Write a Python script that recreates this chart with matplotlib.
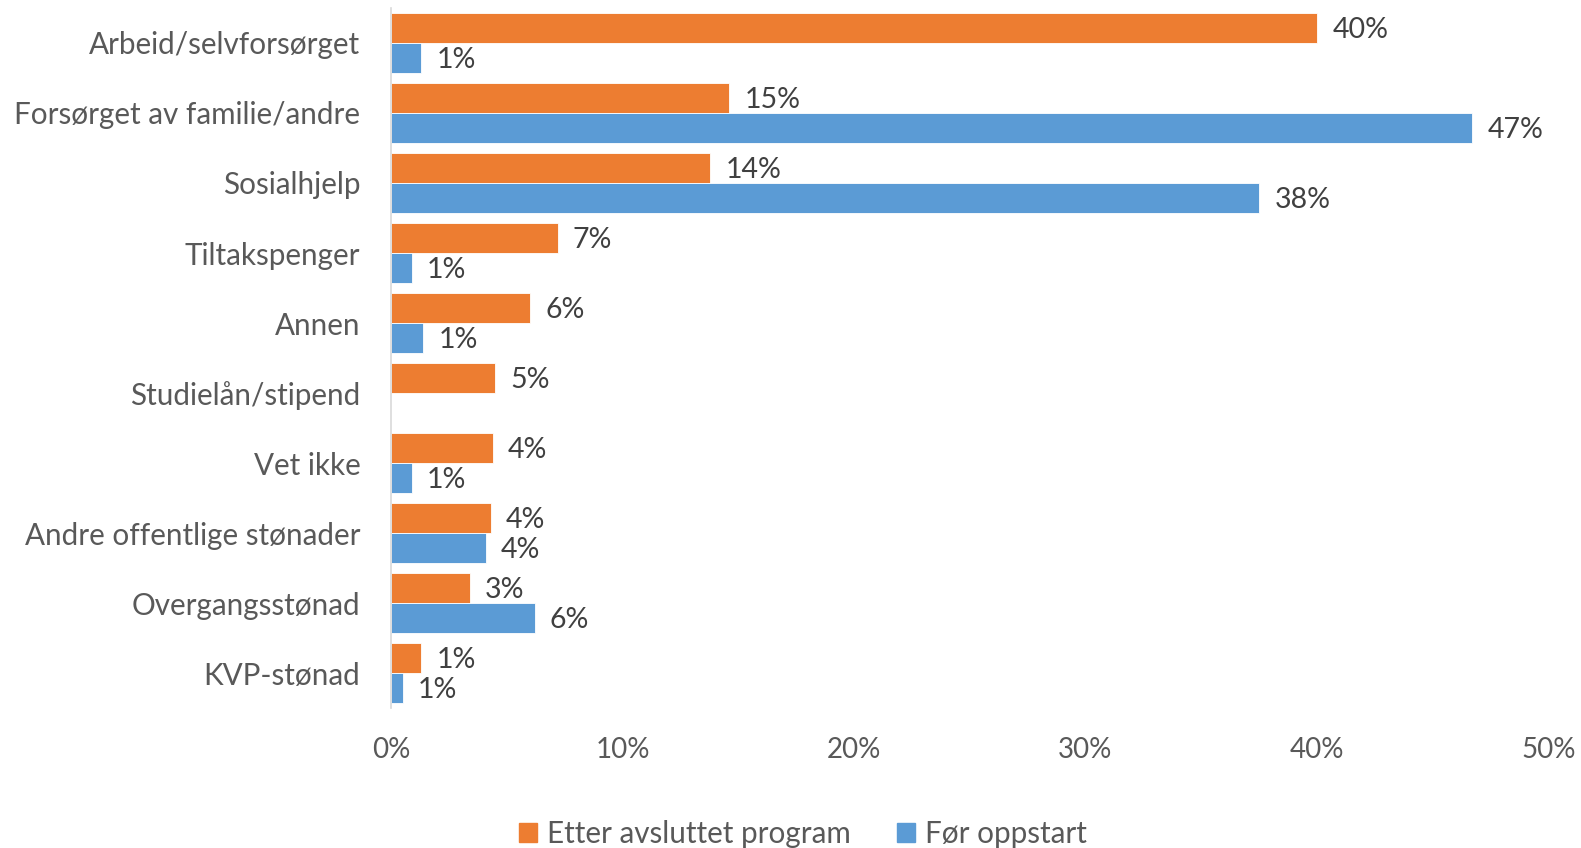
import numpy as np
import matplotlib
matplotlib.use("Agg")
import matplotlib.pyplot as plt
from matplotlib.patches import Patch

categories = ["Arbeid/selvforsørget", "Forsørget av familie/andre", "Sosialhjelp",
              "Tiltakspenger", "Annen", "Studielån/stipend", "Vet ikke",
              "Andre offentlige stønader", "Overgangsstønad", "KVP-stønad"]
etter = [40.0, 14.6, 13.8, 7.2, 6.0, 4.5, 4.4, 4.3, 3.4, 1.3]
for_oppstart = [1.3, 46.7, 37.5, 0.9, 1.4, 0.0, 0.9, 4.1, 6.2, 0.5]
etter_labels = ["40%", "15%", "14%", "7%", "6%", "5%", "4%", "4%", "3%", "1%"]
for_labels = ["1%", "47%", "38%", "1%", "1%", "", "1%", "4%", "6%", "1%"]
x_ticks = [0, 10, 20, 30, 40, 50]

ORANGE = "#ED7D31"
BLUE = "#5B9BD5"
plt.rcParams["font.family"] = ["Lato", "DejaVu Sans"]

fig = plt.figure(figsize=(15.81, 8.48), dpi=100)
ax = fig.add_axes([0.2473, 0.165, 0.9794 - 0.2473, 0.9906 - 0.165])

y = np.arange(len(categories))
h = 0.43
ax.barh(y - h / 2, etter, height=h, color=ORANGE, edgecolor="white", linewidth=0.6)
ax.barh(y + h / 2, for_oppstart, height=h, color=BLUE, edgecolor="white", linewidth=0.6)

for i in range(len(categories)):
    ax.annotate(etter_labels[i], (etter[i], y[i] - h / 2), xytext=(11, -1.5),
                textcoords="offset points", va="center", ha="left",
                fontsize=20.5, color="#404040")
    if for_labels[i]:
        ax.annotate(for_labels[i], (for_oppstart[i], y[i] + h / 2), xytext=(11, -1.5),
                    textcoords="offset points", va="center", ha="left",
                    fontsize=20.5, color="#404040")

ax.set_ylim(len(categories) - 0.5, -0.5)
ax.set_xlim(0, 50)
ax.set_yticks(y)
ax.set_yticklabels(categories, fontsize=21.3, color="#595959")
ax.set_xticks(x_ticks)
ax.set_xticklabels([f"{t}%" for t in x_ticks], fontsize=20, color="#595959")
ax.tick_params(axis="both", length=0)
ax.tick_params(axis="y", pad=22)
ax.tick_params(axis="x", pad=21)
for s in ["top", "right", "bottom"]:
    ax.spines[s].set_visible(False)
ax.spines["left"].set_color("#D9D9D9")
ax.spines["left"].set_linewidth(1.2)

handles = [Patch(color=ORANGE, label="Etter avsluttet program"),
           Patch(color=BLUE, label="Før oppstart")]
fig.legend(handles=handles, loc="center", bbox_to_anchor=(0.508, 0.017), ncol=2,
           frameon=False, fontsize=21.3, labelcolor="#595959", handlelength=0.6,
           handleheight=0.6, handletextpad=0.35, columnspacing=1.55)

fig.savefig("out.png", dpi=100)
